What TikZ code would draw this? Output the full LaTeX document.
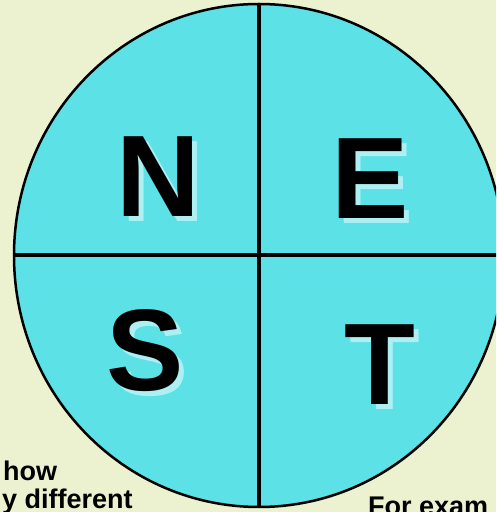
\documentclass[tikz,border=0pt]{standalone}
\usepackage{fontspec}
\setmainfont{Liberation Sans}
\usetikzlibrary{shapes.geometric, positioning}

\definecolor{paper}{RGB}{236,241,208}
\definecolor{disc}{RGB}{92,225,230}
\definecolor{ghost}{RGB}{172,240,244}

\tikzset{
    letter/.style={anchor=base, inner sep=0pt, font=\bfseries\fontsize{116}{116}\selectfont},
    caption/.style={anchor=base west, inner sep=0pt, font=\bfseries\fontsize{27}{27}\selectfont}
}

\begin{document}
\begin{tikzpicture}[x=1pt, y=1pt]
    % Background
    \clip (0,0) rectangle (496,512);
    \fill[paper] (0,0) rectangle (496,512);

    % Disc
    \node[ellipse, draw, line width=2.5pt, fill=disc, inner sep=0pt,
          minimum width=490pt, minimum height=503pt] (wheel) at (259,256.5) {};
    \draw[line width=4pt] (wheel.north) -- (wheel.south);
    \draw[line width=4pt] (wheel.west) -- (wheel.east);

    % Letters (light shadow first)
    \node[letter, ghost] at (163,290) {N};
    \node[letter, ghost] at (375,288) {E};
    \node[letter, ghost] at (150,116) {S};
    \node[letter, ghost] at (385,102) {T};
    \node[letter] (n) at (158,295) {N};
    \node[letter] (e) at (370,293) {E};
    \node[letter] (s) at (145,121) {S};
    \node[letter] (t) at (380,107) {T};

    % Cut-off text
    \node[caption] (how) at (3,31) {how};
    \node[caption] (diff) at (2,4) {y different};
    \node[caption] (exam) at (368,-4) {For exam};
\end{tikzpicture}
\end{document}
